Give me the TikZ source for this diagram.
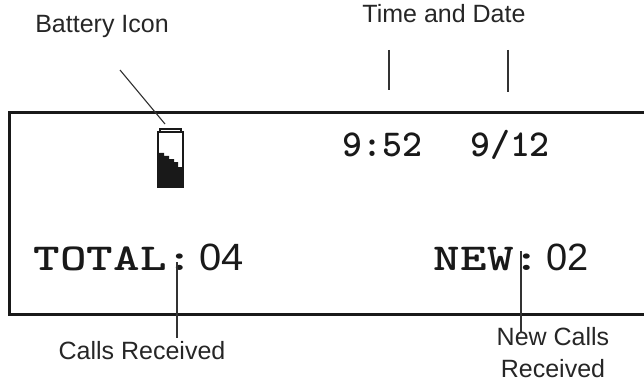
\documentclass[tikz,border=0pt]{standalone}
\usepackage{fontspec}
\setmainfont{Liberation Sans}
\tikzset{
  x=1pt,y=-1pt,
  lbl/.style={font=\fontsize{25}{32}\selectfont,text=black!85,align=center,inner sep=0pt},
  lcdbold/.style={font=\ttfamily\bfseries\fontsize{38}{38}\selectfont,xscale=1.33,inner sep=0pt,anchor=base,text=black!90},
  lcdthin/.style={font=\fontsize{38}{38}\selectfont,inner sep=0pt,anchor=base,text=black!90},
  lcdsmall/.style={font=\ttfamily\bfseries\fontsize{38}{38}\selectfont,inner sep=0pt,anchor=base,text=black!90},
  lead/.style={draw=black!80,line width=1.1pt},
  frameline/.style={draw=black!90,line width=3pt}
}
\begin{document}
\begin{tikzpicture}
\useasboundingbox (0,0) rectangle (644,382);
\draw[frameline] (644,113) -- (9,113) -- (9,314) -- (644,314);
% labels
\node[lbl] (batt) at (102,26) {Battery Icon};
\node[lbl] (td) at (444,14) {Time and Date};
\node[lbl] (calls) at (142,351) {Calls Received};
\node[lbl] (newc) at (553,353) {New Calls\\Received};
% display text
\node[lcdsmall] (time) at (382.5,157) {9:52};
\node[lcdsmall] (date) at (510,157) {9/12};
\node[lcdbold] (total) at (113.5,270) {TOTAL:};
\node[lcdthin,xscale=1.05] (tn) at (222,270.5) {04};
\node[lcdbold] (new) at (487,270) {NEW:};
\node[lcdthin] (nn) at (567.5,270.5) {02};
% battery
\draw[line width=2pt,draw=black!90] (160,131) -- (160,129) -- (181,129) -- (181,131);
\draw[line width=2.5pt,draw=black!90] (158.2,132.2) rectangle (183,186.5);
\fill[black!90] (158,153) -- (164,153) -- (164,156) -- (169,156) -- (169,159) -- (174,159) -- (174,162) -- (178,162) -- (178,167) -- (183,167) -- (183,187) -- (158,187) -- cycle;
% leaders
\coordinate (b1) at (120,70);
\coordinate (b2) at (165,124);
\draw[lead] (b1) -- (b2);
\coordinate (t1) at (389,50);\coordinate (t2) at (389,90);
\draw[lead] (t1) -- (t2);
\coordinate (d1) at (508,50);\coordinate (d2) at (508,92);
\draw[lead] (d1) -- (d2);
\coordinate (c1) at (177,262);\coordinate (c2) at (177,338);
\draw[lead] (c1) -- (c2);
\coordinate (n1) at (521,251);\coordinate (n2) at (521,333);
\draw[lead] (n1) -- (n2);
\end{tikzpicture}
\end{document}
